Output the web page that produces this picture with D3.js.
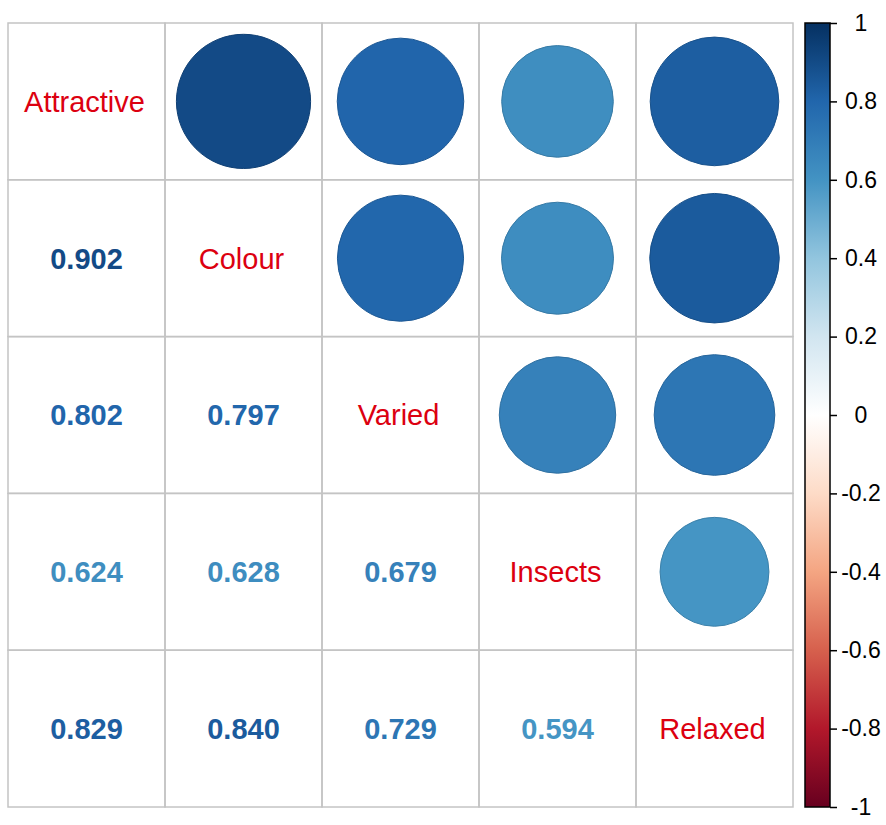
<!DOCTYPE html>
<html><head><meta charset="utf-8">
<script src="https://cdn.jsdelivr.net/npm/d3@7"></script>
<style>body{margin:0;background:#fff;} text{font-family:"Liberation Sans",Arial,sans-serif;}</style>
</head><body>
<svg id="chart" width="886" height="825"></svg>
<script>
const variables = ["Attractive", "Colour", "Varied", "Insects", "Relaxed"];
// lower-triangle correlations: [row, col, value]
const pairRows = [1, 2, 2, 3, 3, 3, 4, 4, 4, 4];
const pairCols = [0, 0, 1, 0, 1, 2, 0, 1, 2, 3];
const pairValues = [0.902, 0.802, 0.797, 0.624, 0.628, 0.679, 0.829, 0.840, 0.729, 0.594];
const legendTicks = [-1, -0.8, -0.6, -0.4, -0.2, 0, 0.2, 0.4, 0.6, 0.8, 1];
const paletteColors = ["#67001F", "#B2182B", "#D6604D", "#F4A582", "#FDDBC7", "#FFFFFF", "#D1E5F0", "#92C5DE", "#4393C3", "#2166AC", "#053061"];

const svg = d3.select("#chart");
const n = variables.length;
const x = d3.scaleBand().domain(d3.range(n)).range([8, 793]);
const y = d3.scaleBand().domain(d3.range(n)).range([23, 807]);
const color = d3.scaleLinear().domain(d3.range(11).map(i => -1 + i * 0.2)).range(paletteColors).interpolate(d3.interpolateRgb);
const cw = x.bandwidth();

// grid
const g = svg.append("g");
for (let i = 0; i < n; i++) for (let j = 0; j < n; j++) {
  g.append("rect").attr("x", x(j)).attr("y", y(i)).attr("width", cw).attr("height", y.bandwidth())
    .attr("fill", "none").attr("stroke", "#c4c4c4").attr("stroke-width", 1.5);
}

const cells = pairValues.map((v, k) => ({r: pairRows[k], c: pairCols[k], v}));

// upper circles
g.selectAll("circle.cor").data(cells).join("circle")
  .attr("class", "cor")
  .attr("cx", d => x(d.r) + cw / 2)
  .attr("cy", d => y(d.c) + y.bandwidth() / 2)
  .attr("r", d => Math.sqrt(Math.abs(d.v)) * 0.45 * cw)
  .attr("fill", d => color(d.v))
  .attr("stroke", d => d3.rgb(color(d.v)).darker(0.4))
  .attr("stroke-width", 1);

// lower numbers
g.selectAll("text.num").data(cells).join("text")
  .attr("class", "num")
  .attr("x", d => x(d.c) + cw / 2)
  .attr("y", d => y(d.r) + y.bandwidth() / 2)
  .attr("dy", "0.36em")
  .attr("text-anchor", "middle")
  .attr("font-size", 29).attr("font-weight", "bold")
  .attr("fill", d => color(d.v))
  .text(d => d.v.toFixed(3));

// diagonal labels
g.selectAll("text.lab").data(variables).join("text")
  .attr("class", "lab")
  .attr("x", (d, i) => x(i) + cw / 2 - 2)
  .attr("y", (d, i) => y(i) + y.bandwidth() / 2)
  .attr("dy", "0.36em")
  .attr("text-anchor", "middle")
  .attr("font-size", 29)
  .attr("fill", "#dc0010")
  .text(d => d);

// colorbar
const defs = svg.append("defs");
const grad = defs.append("linearGradient").attr("id", "cb").attr("x1", 0).attr("y1", 1).attr("x2", 0).attr("y2", 0);
paletteColors.forEach((c, i) => grad.append("stop").attr("offset", i / 10).attr("stop-color", c));
const ly = d3.scaleLinear().domain([-1, 1]).range([807, 23]);
svg.append("rect").attr("x", 805).attr("y", ly(1)).attr("width", 25).attr("height", ly(-1) - ly(1))
  .attr("fill", "url(#cb)").attr("stroke", "#000").attr("stroke-width", 1.5);
const axis = d3.axisRight(ly).tickValues(legendTicks).tickSize(7).tickFormat(d => String(d));
const ax = svg.append("g").attr("transform", "translate(830,0)").call(axis);
ax.select(".domain").remove();
ax.selectAll(".tick line").attr("stroke", "#000").attr("stroke-width", 1.5);
ax.selectAll(".tick text").attr("x", 31).attr("text-anchor", "middle").attr("font-size", 23)
  .attr("fill", "#000").attr("font-family", "Liberation Sans, Arial, sans-serif");
</script>
</body></html>
